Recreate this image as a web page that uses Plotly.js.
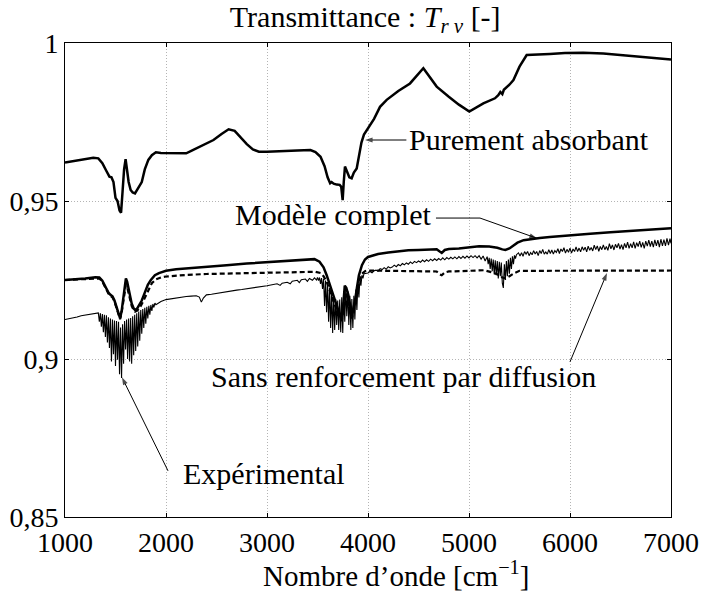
<!DOCTYPE html>
<html><head><meta charset="utf-8">
<script src="https://cdn.plot.ly/plotly-3.0.1.min.js"></script>
<style>
body{margin:0;background:#fff}
#chart{width:701px;height:596px}
</style>
</head><body><div id="chart"></div>
<script>
// ---- Data ----
const absX = [1000,1100,1200,1280,1330,1370,1410,1440,1460,1480,1500,1520,1540,1555,1570,1585,1600,1612,1630,1650,1670,1693,1720,1760,1790,1825,1860,1900,1950,2000,2100,2200,2260,2340,2400,2470,2550,2620,2680,2740,2800,2860,2920,3000,3100,3200,3300,3430,3480,3530,3570,3600,3625,3640,3660,3690,3720,3735,3749,3760,3772,3790,3815,3838,3860,3888,3910,3935,3960,4003,4060,4119,4185,4300,4416,4548,4620,4680,4800,4900,5003,5080,5142,5257,5290,5310,5330,5345,5400,5440,5500,5571,5700,5800,5950,6132,6330,6500,6660,6800,7000];
const absY = [0.9622,0.9628,0.9633,0.9637,0.9635,0.9620,0.9595,0.9577,0.9575,0.9560,0.9510,0.9500,0.9470,0.9463,0.9530,0.9600,0.9632,0.9600,0.9560,0.9535,0.9527,0.9524,0.9540,0.9560,0.9600,0.9630,0.9645,0.9654,0.9652,0.9652,0.9651,0.9651,0.9660,0.9672,0.9680,0.9693,0.9712,0.9727,0.9722,0.9700,0.9680,0.9663,0.9656,0.9656,0.9658,0.9660,0.9660,0.9661,0.9655,0.9640,0.9610,0.9575,0.9556,0.9560,0.9555,0.9552,0.9551,0.9545,0.9503,0.9560,0.9609,0.9595,0.9575,0.9572,0.9590,0.9603,0.9640,0.9685,0.9710,0.9730,0.9760,0.9798,0.9820,0.9848,0.9872,0.9920,0.9890,0.9862,0.9830,0.9805,0.9783,0.9798,0.9809,0.9825,0.9835,0.9845,0.9838,0.9852,0.9868,0.9883,0.9925,0.9962,0.9963,0.9965,0.9968,0.9969,0.9967,0.9962,0.9957,0.9953,0.9948];

const compX = [1000,1100,1200,1300,1340,1370,1400,1430,1450,1470,1490,1510,1530,1545,1560,1575,1590,1603,1615,1630,1645,1660,1680,1695,1715,1730,1760,1790,1820,1850,1890,1930,2000,2100,2200,2400,2600,2800,3000,3200,3400,3470,3520,3560,3590,3620,3640,3660,3680,3700,3720,3740,3755,3770,3785,3805,3825,3840,3855,3870,3890,3910,3940,3970,4000,4100,4200,4300,4400,4500,4600,4680,4710,4730,4760,4800,4900,5000,5100,5200,5280,5330,5360,5400,5440,5480,5540,5600,5700,5800,5900,6000,6200,6400,6600,6800,7000];
const compY = [0.9250,0.9252,0.9255,0.9259,0.9258,0.9248,0.9228,0.9210,0.9203,0.9198,0.9185,0.9166,0.9140,0.9129,0.9150,0.9187,0.9230,0.9255,0.9245,0.9225,0.9195,0.9176,0.9160,0.9155,0.9160,0.9168,0.9185,0.9210,0.9235,0.9250,0.9265,0.9272,0.9279,0.9284,0.9287,0.9292,0.9297,0.9302,0.9306,0.9310,0.9314,0.9316,0.9308,0.9290,0.9266,0.9236,0.9215,0.9195,0.9175,0.9155,0.9140,0.9129,0.9170,0.9232,0.9225,0.9203,0.9165,0.9139,0.9160,0.9181,0.9225,0.9265,0.9297,0.9315,0.9323,0.9332,0.9337,0.9341,0.9344,0.9345,0.9346,0.9347,0.9340,0.9336,0.9345,0.9348,0.9350,0.9353,0.9357,0.9356,0.9352,0.9347,0.9345,0.9350,0.9358,0.9368,0.9376,0.9379,0.9383,0.9386,0.9388,0.9391,0.9396,0.9401,0.9405,0.9409,0.9414];

const sansX = [1000,1100,1200,1300,1340,1370,1400,1430,1450,1470,1490,1510,1530,1545,1560,1575,1590,1603,1615,1630,1645,1660,1680,1695,1715,1740,1770,1800,1830,1860,1900,1950,2000,2100,2200,2400,2600,2800,3000,3200,3400,3480,3530,3560,3590,3620,3640,3660,3680,3700,3720,3740,3755,3770,3785,3805,3825,3840,3855,3870,3890,3910,3940,3970,4000,4200,4500,4680,4710,4730,4760,4800,5000,5150,5220,5280,5330,5360,5400,5450,5500,5700,6000,6500,7000];
const sansY = [0.9250,0.9252,0.9254,0.9256,0.9255,0.9245,0.9225,0.9207,0.9200,0.9195,0.9182,0.9163,0.9137,0.9126,0.9145,0.9180,0.9215,0.9235,0.9228,0.9210,0.9185,0.9168,0.9155,0.9150,0.9153,0.9162,0.9180,0.9200,0.9222,0.9240,0.9252,0.9258,0.9261,0.9264,0.9266,0.9269,0.9271,0.9272,0.9273,0.9274,0.9275,0.9276,0.9272,0.9262,0.9245,0.9220,0.9200,0.9180,0.9162,0.9145,0.9132,0.9120,0.9155,0.9210,0.9205,0.9185,0.9150,0.9128,0.9148,0.9170,0.9210,0.9245,0.9270,0.9278,0.9280,0.9279,0.9278,0.9277,0.9268,0.9265,0.9274,0.9277,0.9279,0.9281,0.9275,0.9268,0.9258,0.9255,0.9262,0.9272,0.9279,0.9279,0.9279,0.9279,0.9280];

const expX = [1000,1040,1080,1120,1160,1200,1240,1280,1320,
1330,1340,1350,1360,1370,1380,1390,1400,1410,1420,1430,1440,1450,1460,1470,1480,1490,1500,1510,1520,1530,1540,1550,1560,1570,1580,1590,1600,1610,1620,1630,1640,1650,1660,1670,1680,1690,1700,1710,1720,1730,1740,1750,1760,1770,1780,1790,1800,1810,1820,1830,1840,1850,1860,1870,1880,1890,1900,
1950,2000,2050,2100,2150,2200,2250,2300,2330,2350,2370,2400,2450,2500,2550,2600,2650,2700,2750,2800,2850,2900,2950,3000,3050,3100,3130,3150,3200,3230,3250,3300,3320,3340,3380,3400,3420,3450,3470,3490,3500,
3510,3520,3530,3540,3550,3560,3570,3580,3590,3600,3610,3620,3630,3640,3650,3660,3670,3680,3690,3700,3710,3720,3730,3740,3750,3760,3770,3780,3790,3800,3810,3820,3830,3840,3850,3860,3870,3880,3890,3900,3910,3920,3930,3940,3950,3960,
4000,4020,4040,4060,4080,4100,4120,4140,4160,4180,4200,4220,4240,4260,4280,4300,4320,4340,4360,4380,4400,4420,4440,4460,4480,4500,4520,4540,4560,4580,4600,4620,4640,4660,4680,4700,4720,4740,4760,4780,4800,4820,4840,4860,4880,4900,4920,4940,4960,4980,5000,5020,5040,5060,5080,5100,5120,5140,5160,5180,5190,
5200,5210,5220,5230,5240,5250,5260,5270,5280,5290,5300,5310,5320,5330,5340,5350,5360,5370,5380,5390,5400,5410,5420,5430,5440,5450,5460,5470,
5490,5505,5520,5535,5550,5565,5580,5595,5610,5625,5640,5655,5670,5685,5700,5715,5730,5745,5760,5775,5790,5805,5820,5835,5850,5865,5880,5895,5910,5925,5940,5955,5970,5985,6000,6015,6030,6045,6060,6075,6090,6105,6120,6135,6150,6165,6180,6195,6210,6225,6240,6255,6270,6285,6300,6315,6330,6345,6360,6375,6390,6405,6420,6435,6450,6465,6480,6495,6510,6525,6540,6555,6570,6585,6600,6615,6630,6645,6660,6675,6690,6705,6720,6735,6750,6765,6780,6795,6810,6825,6840,6855,6870,6885,6900,6915,6930,6945,6960,6975,6990,7000];
const expY = [0.9125,0.9127,0.9131,0.9133,0.9137,0.9139,0.9143,0.9145,0.9147,
0.9146,0.9118,0.9145,0.9102,0.9142,0.9085,0.9140,0.9070,0.9138,0.9052,0.9132,0.9035,0.9128,0.8992,0.9125,0.9015,0.9122,0.8978,0.9120,0.8998,0.9118,0.8952,0.9100,0.8940,0.9110,0.8985,0.9120,0.9030,0.9125,0.9000,0.9128,0.8992,0.9130,0.8985,0.9135,0.9012,0.9140,0.9025,0.9145,0.9040,0.9150,0.9058,0.9155,0.9080,0.9158,0.9098,0.9162,0.9112,0.9165,0.9128,0.9168,0.9140,0.9171,0.9152,0.9174,0.9163,0.9177,0.9172,
0.9182,0.9188,0.9191,0.9194,0.9196,0.9198,0.9199,0.9200,0.9196,0.9180,0.9193,0.9203,0.9205,0.9208,0.9211,0.9214,0.9216,0.9218,0.9220,0.9222,0.9224,0.9227,0.9229,0.9232,0.9235,0.9238,0.9233,0.9240,0.9243,0.9238,0.9246,0.9249,0.9242,0.9251,0.9253,0.9246,0.9255,0.9249,0.9257,0.9250,0.9258,
0.9248,0.9258,0.9238,0.9256,0.9222,0.9254,0.9168,0.9248,0.9148,0.9238,0.9118,0.9225,0.9098,0.9210,0.9082,0.9198,0.9092,0.9190,0.9108,0.9185,0.9092,0.9188,0.9085,0.9195,0.9082,0.9215,0.9118,0.9225,0.9135,0.9215,0.9108,0.9200,0.9092,0.9190,0.9098,0.9200,0.9125,0.9220,0.9155,0.9240,0.9195,0.9255,0.9232,0.9265,0.9255,0.9270,
0.9272,0.9277,0.9273,0.9279,0.9281,0.9278,0.9286,0.9283,0.9289,0.9284,0.9292,0.9288,0.9291,0.9297,0.9292,0.9299,0.9295,0.9302,0.9298,0.9304,0.9300,0.9307,0.9302,0.9309,0.9305,0.9310,0.9306,0.9313,0.9308,0.9314,0.9309,0.9316,0.9311,0.9317,0.9312,0.9318,0.9313,0.9320,0.9314,0.9321,0.9316,0.9322,0.9317,0.9323,0.9317,0.9324,0.9318,0.9325,0.9319,0.9326,0.9320,0.9327,0.9321,0.9327,0.9320,0.9327,0.9316,0.9326,0.9310,0.9324,0.9300,
0.9320,0.9285,0.9318,0.9278,0.9315,0.9268,0.9312,0.9265,0.9310,0.9255,0.9308,0.9262,0.9305,0.9240,0.9225,0.9300,0.9250,0.9310,0.9262,0.9315,0.9270,0.9320,0.9285,0.9325,0.9300,0.9328,0.9318,0.9330,
0.9336,0.9326,0.9336,0.9325,0.9340,0.9332,0.9340,0.9327,0.9337,0.9330,0.9343,0.9332,0.9340,0.9327,0.9343,0.9334,0.9347,0.9332,0.9339,0.9332,0.9346,0.9334,0.9345,0.9332,0.9343,0.9337,0.9349,0.9334,0.9348,0.9340,0.9352,0.9335,0.9347,0.9338,0.9351,0.9335,0.9348,0.9340,0.9355,0.9340,0.9351,0.9339,0.9355,0.9344,0.9354,0.9339,0.9357,0.9344,0.9353,0.9342,0.9360,0.9346,0.9358,0.9341,0.9356,0.9346,0.9361,0.9346,0.9356,0.9344,0.9365,0.9349,0.9361,0.9345,0.9363,0.9352,0.9366,0.9348,0.9362,0.9346,0.9366,0.9352,0.9370,0.9350,0.9365,0.9352,0.9371,0.9350,0.9368,0.9356,0.9373,0.9353,0.9369,0.9350,0.9373,0.9357,0.9376,0.9356,0.9373,0.9354,0.9377,0.9358,0.9376,0.9354,0.9379,0.9358,0.9378,0.9358,0.9382,0.9360,0.9381,0.9366];

const xTicks = [1000,2000,3000,4000,5000,6000,7000];
const yTicks = [0.85,0.9,0.95,1];

// annotation labels: [text, x, y] and connectors (tail ... head)
const labels = [
  ['Purement absorbant', 4386, 0.9695],
  ['Modèle complet', 2663, 0.9458],
  ['Sans renforcement par diffusion', 2426, 0.8945],
  ['Expérimental', 2149, 0.8638]
];
const connectors = [
  {x:[4380, 3970], y:[0.9693, 0.9693]},
  {x:[4673, 5109, 5673], y:[0.9446, 0.9446, 0.9382]},
  {x:[6000, 6366], y:[0.8991, 0.9272]},
  {x:[2020, 1564], y:[0.8646, 0.8942]}
];

const FONT = 'Liberation Serif';

const traces = [
  {x: expX, y: expY, mode:'lines', line:{color:'#000', width:1.1}, hoverinfo:'skip'},
  {x: sansX, y: sansY, mode:'lines', line:{color:'#000', width:2.2, dash:'5px,3px'}, hoverinfo:'skip'},
  {x: compX, y: compY, mode:'lines', line:{color:'#000', width:2.5}, hoverinfo:'skip'},
  {x: absX, y: absY, mode:'lines', line:{color:'#000', width:2.5}, hoverinfo:'skip'}
];
connectors.forEach(c => {
  const n = c.x.length;
  traces.push({x:c.x, y:c.y, mode:'lines+markers', hoverinfo:'skip', cliponaxis:false,
    line:{color:'#000', width:1},
    marker:{color:'#000', symbol:c.x.map((_,i)=> i===n-1 ? 'arrow' : 'circle'),
            size:c.x.map((_,i)=> i===n-1 ? 8 : 0), angleref:'previous', line:{width:0}}});
});

const annots = labels.map(l => ({text:l[0], x:l[1], y:l[2], xref:'x', yref:'y', showarrow:false,
         xanchor:'left', yanchor:'middle', font:{family:FONT, size:30, color:'#000'}}));
// x-axis title (placed like the reference, slightly right of centre)
annots.push({text:'Nombre d’onde [cm<sup>−1</sup>]', xref:'paper', yref:'paper', x:0.547, y:-0.120,
         xanchor:'center', yanchor:'middle', showarrow:false, font:{family:FONT, size:29, color:'#000'}});

const layout = {
  width:701, height:596,
  margin:{l:65, r:30, t:43, b:79},
  paper_bgcolor:'#fff', plot_bgcolor:'#fff',
  separators:', ',
  showlegend:false,
  title:{text:'Transmittance : <i>T</i><sub><i>r ν</i></sub> [-]', x:0.521, xanchor:'center',
         yref:'container', y:0.972, yanchor:'middle',
         font:{family:FONT, size:30, color:'#000'}},
  xaxis:{range:[1000,7000], tickvals:xTicks, ticks:'inside', ticklen:4, tickcolor:'#000',
         showline:true, linecolor:'#000', linewidth:1, mirror:'ticks',
         showgrid:true, gridcolor:'#b4b4b4', griddash:'1px,2px', gridwidth:1, zeroline:false,
         tickfont:{family:FONT, size:28, color:'#000'}},
  yaxis:{range:[0.85,1], tickvals:yTicks, ticks:'inside', ticklen:4, tickcolor:'#000',
         showline:true, linecolor:'#000', linewidth:1, mirror:'ticks',
         showgrid:true, gridcolor:'#b4b4b4', griddash:'1px,2px', gridwidth:1, zeroline:false,
         tickfont:{family:FONT, size:28, color:'#000'}},
  annotations: annots
};

Plotly.newPlot('chart', traces, layout, {displayModeBar:false, staticPlot:true});
</script></body></html>
